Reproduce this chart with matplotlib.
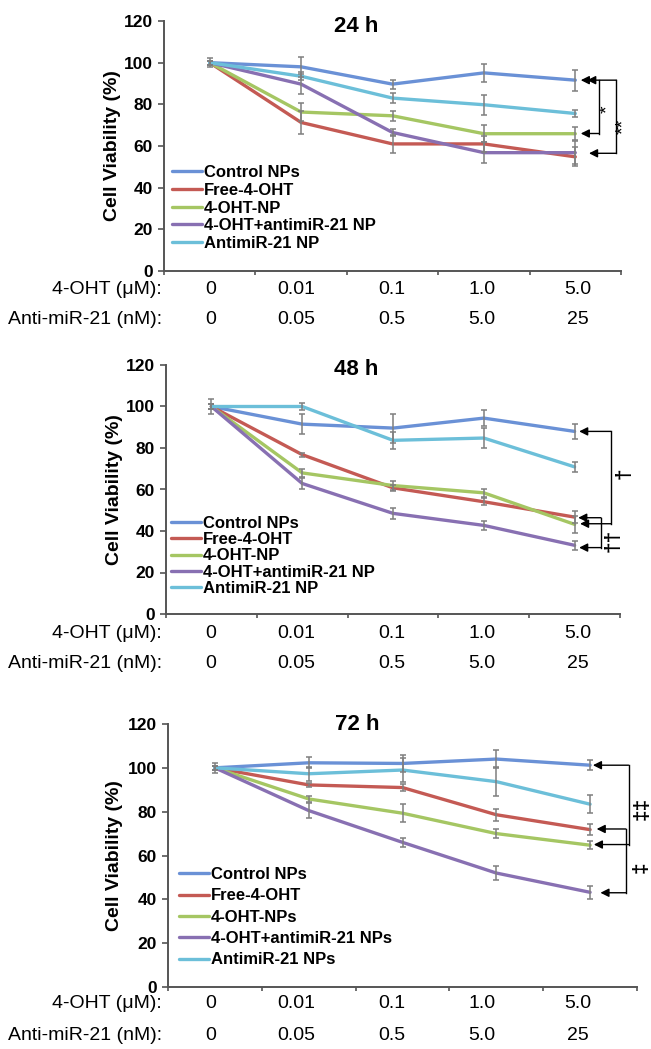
import numpy as np
import matplotlib
matplotlib.use("Agg")
import matplotlib.pyplot as plt

plt.rcParams['font.family'] = ['Liberation Sans', 'DejaVu Sans']

# ---- data ----
labels_a = ["Control NPs", "Free-4-OHT", "4-OHT-NP", "4-OHT+antimiR-21 NP", "AntimiR-21 NP"]
labels_c = ["Control NPs", "Free-4-OHT", "4-OHT-NPs", "4-OHT+antimiR-21 NPs", "AntimiR-21 NPs"]
oht_ticks = ["0", "0.01", "0.1", "1.0", "5.0"]
mir_ticks = ["0", "0.05", "0.5", "5.0", "25"]

# 24 h
ctrl_24 = [100, 98.0, 89.7, 95.1, 91.6]
free_24 = [100, 71.3, 61.0, 61.0, 54.8]
np_24 = [100, 76.3, 74.5, 65.9, 65.9]
combo_24 = [100, 89.7, 66.5, 56.8, 56.8]
anti_24 = [100, 93.5, 83.0, 79.8, 75.6]
ctrl_24_err = [2.3, 4.8, 2.2, 4.5, 5.0]
free_24_err = [1.0, 5.4, 4.3, 4.0, 4.5]
np_24_err = [1.0, 4.3, 2.4, 4.2, 3.0]
combo_24_err = [1.0, 4.7, 1.6, 5.0, 5.5]
anti_24_err = [1.0, 2.0, 2.2, 4.9, 1.9]

# 48 h
ctrl_48 = [100, 91.5, 89.6, 94.4, 88.0]
free_48 = [100, 76.8, 60.8, 54.1, 46.7]
np_48 = [100, 68.0, 61.9, 58.4, 43.2]
combo_48 = [100, 62.9, 48.5, 42.7, 33.1]
anti_48 = [100, 100.0, 83.7, 84.8, 70.9]
ctrl_48_err = [3.5, 4.8, 7.0, 4.0, 3.6]
free_48_err = [1.0, 1.0, 1.5, 1.6, 2.8]
np_48_err = [1.0, 2.0, 2.0, 1.8, 4.0]
combo_48_err = [1.0, 2.7, 2.6, 2.3, 2.2]
anti_48_err = [1.0, 1.6, 4.2, 5.0, 2.3]

# 72 h
ctrl_72 = [100, 102.3, 102.0, 104.0, 101.2]
free_72 = [100, 92.2, 91.0, 78.6, 71.8]
np_72 = [100, 85.8, 79.3, 70.0, 64.7]
combo_72 = [100, 80.5, 66.0, 52.0, 43.2]
anti_72 = [100, 97.3, 99.0, 93.7, 83.4]
ctrl_72_err = [2.3, 2.5, 3.7, 4.2, 2.2]
free_72_err = [1.0, 1.0, 1.5, 2.8, 2.4]
np_72_err = [1.0, 1.5, 4.0, 2.0, 1.8]
combo_72_err = [1.0, 3.3, 1.9, 3.2, 3.0]
anti_72_err = [1.0, 3.2, 5.5, 6.5, 4.0]

colors = ['#6A91D6', '#C45A54', '#A5C663', '#8870B2', '#6CBFD9']

fig = plt.figure(figsize=(6.51, 10.49), dpi=100)
W, H = 651, 1049

def px_axes(l, t, r, b):
    return fig.add_axes([l / W, 1 - b / H, (r - l) / W, (b - t) / H])

def panel(ax, series, errs, names, title, title_xy, leg_anchor, leg_space):
    x = np.arange(5)
    for s, e, c, n in zip(series, errs, colors, names):
        ax.plot(x, s, color=c, lw=2.4, label=n, zorder=2, solid_capstyle='round')
        ax.errorbar(x, s, yerr=e, fmt='none', ecolor='#7f7f7f', elinewidth=1.1,
                    capsize=2.5, capthick=1.1, zorder=3)
    ax.set_xlim(-0.5, 4.5)
    ax.set_ylim(0, 120)
    ax.set_yticks(range(0, 121, 20))
    ax.set_xticks(np.arange(-0.5, 4.6, 1.0))
    ax.set_xticklabels([])
    for sp in ['top', 'right']:
        ax.spines[sp].set_visible(False)
    for sp in ['left', 'bottom']:
        ax.spines[sp].set_color('#555555')
        ax.spines[sp].set_linewidth(1.4)
    ax.tick_params(axis='y', direction='out', length=4, width=1.2, color='#555555', pad=4,
                   labelsize=12.5)
    ax.tick_params(axis='x', direction='out', length=3, width=1.2, color='#555555')
    for t in ax.get_yticklabels():
        t.set_fontweight('bold')
    ax.set_ylabel("Cell Viability (%)", fontsize=14, fontweight='bold')
    ax.yaxis.set_label_coords(-0.095, 0.5)
    ax.text(title_xy[0], title_xy[1], title, transform=ax.transAxes, fontsize=16,
            fontweight='bold', ha='center', va='center')
    ax.legend(loc='upper left', bbox_to_anchor=leg_anchor, frameon=False,
              prop={'weight': 'bold', 'size': 12}, handlelength=1.8,
              handletextpad=0.1, labelspacing=leg_space, borderpad=0, borderaxespad=0)

def dose_rows(y1, y2, xs):
    fig.text(162 / W, 1 - y1 / H, "4-OHT (\u03bcM):", fontsize=14, ha='right', va='center')
    fig.text(162 / W, 1 - y2 / H, "Anti-miR-21 (nM):", fontsize=14, ha='right', va='center')
    for xp, a, b in zip(xs, oht_ticks, mir_ticks):
        fig.text(xp / W, 1 - y1 / H, a, fontsize=14, ha='center', va='center')
        fig.text(xp / W, 1 - y2 / H, b, fontsize=14, ha='center', va='center')

def arrow(ax, x_from, x_to, y):
    ax.annotate("", xy=(x_to, y), xytext=(x_from, y), annotation_clip=False,
                arrowprops=dict(arrowstyle="-|>,head_length=0.5,head_width=0.25",
                                color='black', lw=1.0, shrinkA=0, shrinkB=0))

def vline(ax, x, y0, y1):
    ax.plot([x, x], [y0, y1], color='black', lw=1.0, clip_on=False)

def mark(ax, x, y, s, size):
    ax.text(x, y, s, rotation=90, fontsize=size, fontweight='bold',
            ha='center', va='center', clip_on=False)

label_x = [211, 296, 392, 482, 578]

# ---- 24 h ----
ax1 = px_axes(164, 21, 621, 271)
panel(ax1, [ctrl_24, free_24, np_24, combo_24, anti_24],
      [ctrl_24_err, free_24_err, np_24_err, combo_24_err, anti_24_err],
      labels_a, "24 h", (0.42, 0.977), (0.0175, 0.423), 0.16)
arrow(ax1, 4.45, 4.13, ctrl_24[4])
arrow(ax1, 4.16, 4.06, ctrl_24[4])
vline(ax1, 4.26, ctrl_24[4], 66)
arrow(ax1, 4.26, 4.06, 66)
vline(ax1, 4.45, ctrl_24[4], 56.5)
arrow(ax1, 4.45, 4.15, 56.5)
ax1.text(4.35, 77.5, "*", rotation=90, fontsize=14, ha='center', va='center', clip_on=False)
ax1.text(4.53, 69.5, "**", rotation=90, fontsize=14, ha='center', va='center', clip_on=False)
dose_rows(289, 320, label_x)

# ---- 48 h ----
ax2 = px_axes(166, 365, 620, 614)
panel(ax2, [ctrl_48, free_48, np_48, combo_48, anti_48],
      [ctrl_48_err, free_48_err, np_48_err, combo_48_err, anti_48_err],
      labels_a, "48 h", (0.418, 0.981), (0.012, 0.393), 0.07)
arrow(ax2, 4.40, 4.05, ctrl_48[4])
vline(ax2, 4.40, ctrl_48[4], 43.5)
arrow(ax2, 4.40, 4.06, 43.5)
arrow(ax2, 4.29, 4.04, 46.4)
vline(ax2, 4.29, 46.4, 32)
arrow(ax2, 4.29, 4.05, 32)
mark(ax2, 4.55, 67.8, "\u2020", 15)
mark(ax2, 4.42, 35.3, "\u2020\u2020", 15)
dose_rows(633, 664, label_x)

# ---- 72 h ----
ax3 = px_axes(168, 724, 637, 987)
panel(ax3, [ctrl_72, free_72, np_72, combo_72, anti_72],
      [ctrl_72_err, free_72_err, np_72_err, combo_72_err, anti_72_err],
      labels_c, "72 h", (0.403, 1.0), (0.024, 0.456), 0.38)
arrow(ax3, 4.41, 4.03, ctrl_72[4])
vline(ax3, 4.41, ctrl_72[4], 65)
arrow(ax3, 4.41, 4.04, 65)
arrow(ax3, 4.38, 4.07, 72.1)
vline(ax3, 4.38, 72.1, 43)
arrow(ax3, 4.38, 4.11, 43)
mark(ax3, 4.55, 81.3, "\u2021\u2021", 15)
mark(ax3, 4.54, 54.7, "\u2021", 15)
dose_rows(1004, 1035, label_x)

fig.savefig("out.png", dpi=100)
